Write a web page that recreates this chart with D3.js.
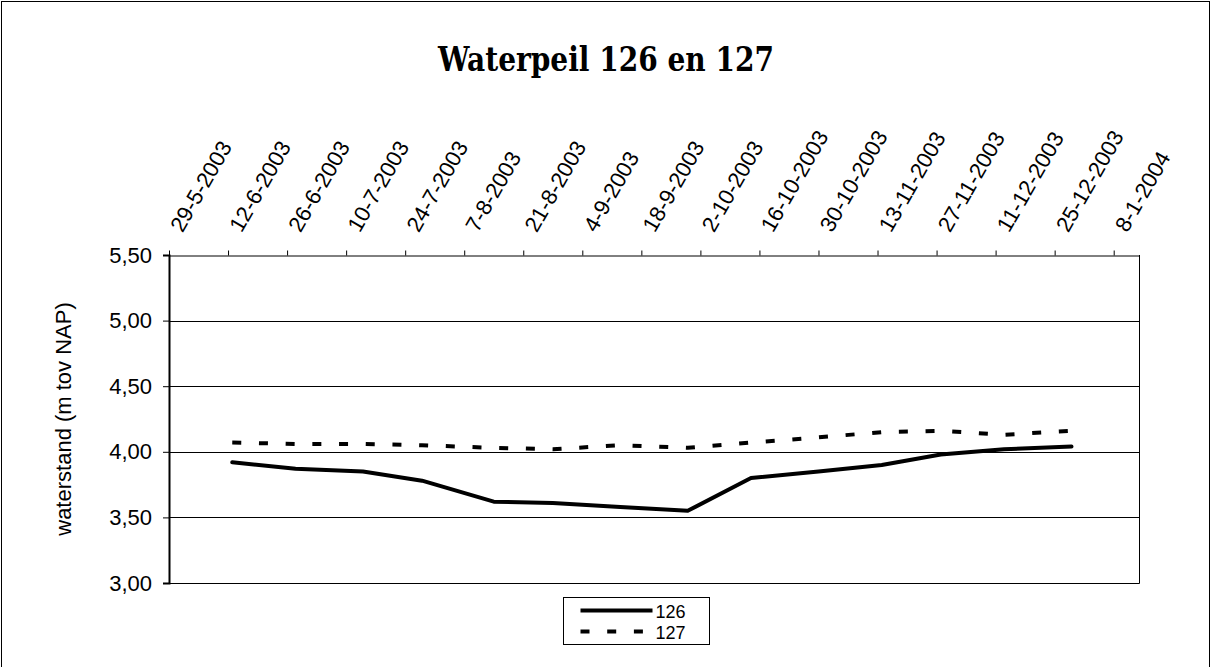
<!DOCTYPE html>
<html>
<head>
<meta charset="utf-8">
<script src="https://cdn.jsdelivr.net/npm/d3@7"></script>
<style>
  html, body { margin: 0; padding: 0; background: #fff; }
  svg { display: block; }
  .tick text { font-family: Arial, "Liberation Sans", sans-serif; }
</style>
</head>
<body>
<svg id="chart" width="1212" height="667"></svg>
<script>
// Meetdata waterpeil (m t.o.v. NAP) per peilbuis
const meetDatums = ["13-6-2003", "28-6-2003", "14-7-2003", "28-7-2003", "14-8-2003", "28-8-2003",
  "13-9-2003", "29-9-2003", "14-10-2003", "30-10-2003", "14-11-2003", "28-11-2003",
  "13-12-2003", "29-12-2003"];
const peil126 = [3.92, 3.87, 3.85, 3.78, 3.62, 3.61, 3.58, 3.55, 3.80, 3.85, 3.90, 3.98, 4.02, 4.04];
const peil127 = [4.07, 4.06, 4.06, 4.05, 4.03, 4.02, 4.05, 4.03, 4.07, 4.11, 4.15, 4.16, 4.13, 4.16];

// As-indeling
const xTickLabels = ["29-5-2003", "12-6-2003", "26-6-2003", "10-7-2003", "24-7-2003", "7-8-2003",
  "21-8-2003", "4-9-2003", "18-9-2003", "2-10-2003", "16-10-2003", "30-10-2003", "13-11-2003",
  "27-11-2003", "11-12-2003", "25-12-2003", "8-1-2004"];
const xEinde = "14-1-2004";
const yTicks = [3.00, 3.50, 4.00, 4.50, 5.00, 5.50];

const seriesNamen = ["126", "127"];
const titel = "Waterpeil 126 en 127";
const yTitel = "waterstand (m tov NAP)";

function parseDatum(s) {
  const [d, m, y] = s.split("-").map(Number);
  return new Date(Date.UTC(y, m - 1, d));
}
const fmtDatum = d3.utcFormat("%-d-%-m-%Y");
const fmtPeil = v => d3.format(".2f")(v).replace(".", ",");

const svg = d3.select("#chart");
const W = 1212, H = 667;
const plot = { left: 169, right: 1139, top: 255, bottom: 583 };
const labelFont = "Arial, 'Liberation Sans', sans-serif";

svg.append("rect").attr("width", W).attr("height", H).attr("fill", "#fff");
// kader rond de grafiek
svg.append("rect")
  .attr("x", 1.5).attr("y", 1.5).attr("width", 1208).attr("height", 700)
  .attr("fill", "none").attr("stroke", "#000").attr("stroke-width", 1);

// titel (smal gezet)
svg.append("text")
  .attr("transform", "translate(606,71) scale(0.85,1)")
  .attr("text-anchor", "middle")
  .style("font-family", "'DejaVu Serif', serif")
  .style("font-weight", "bold")
  .style("font-size", "33px")
  .text(titel);

const xTickDates = xTickLabels.map(parseDatum);
const x = d3.scaleUtc()
  .domain([xTickDates[0], parseDatum(xEinde)])
  .range([plot.left, plot.right]);
const y = d3.scaleLinear()
  .domain([yTicks[0], yTicks[yTicks.length - 1]])
  .range([plot.bottom, plot.top]);

// horizontale rasterlijnen
svg.append("g")
  .selectAll("line")
  .data(yTicks.slice(1, -1))
  .join("line")
  .attr("x1", plot.left).attr("x2", plot.right)
  .attr("y1", d => Math.round(y(d)) + 0.5).attr("y2", d => Math.round(y(d)) + 0.5)
  .attr("stroke", "#000").attr("stroke-width", 1);

// rand rechts en onder
svg.append("path")
  .attr("d", `M${plot.right + 0.5},${plot.top}V${plot.bottom + 0.5}H${plot.left}`)
  .attr("fill", "none").attr("stroke", "#000").attr("stroke-width", 1);

// y-as
const yAxis = svg.append("g")
  .attr("transform", `translate(${plot.left},0)`)
  .call(d3.axisLeft(y).tickValues(yTicks).tickFormat(fmtPeil).tickSize(6).tickPadding(11));
yAxis.select(".domain").attr("stroke-width", 2);
yAxis.selectAll(".tick line").attr("stroke-width", 1);
yAxis.selectAll(".tick text").style("font-size", "22px").attr("fill", "#000");

// x-as met datums bovenaan
const xAxis = svg.append("g")
  .attr("transform", `translate(0,${plot.top + 0.5})`)
  .call(d3.axisTop(x).tickValues(xTickDates).tickFormat(fmtDatum).tickSizeInner(5).tickSizeOuter(0));
xAxis.select(".domain").attr("stroke-width", 1);
xAxis.selectAll(".tick text")
  .style("font-size", "22px")
  .attr("fill", "#000")
  .attr("text-anchor", "start")
  .attr("dy", 0)
  .attr("transform", "translate(13,-22) rotate(-60)")
  .attr("x", 0).attr("y", 0);

// y-astitel
svg.append("text")
  .attr("transform", `translate(71,${(plot.top + plot.bottom) / 2}) rotate(-90)`)
  .attr("text-anchor", "middle")
  .style("font-family", labelFont)
  .style("font-size", "22px")
  .text(yTitel);

// lijnen
const series = [
  { naam: seriesNamen[0], waarden: peil126, dash: null },
  { naam: seriesNamen[1], waarden: peil127, dash: "9 17.7" }
];
const line = d3.line()
  .x(d => x(d.datum))
  .y(d => y(d.waarde));

series.forEach(s => {
  const punten = meetDatums.map((d, i) => ({ datum: parseDatum(d), waarde: s.waarden[i] }));
  svg.append("path")
    .datum(punten)
    .attr("d", line)
    .attr("fill", "none")
    .attr("stroke", "#000")
    .attr("stroke-width", 4)
    .attr("stroke-linejoin", "round")
    .attr("stroke-linecap", s.dash ? "butt" : "round")
    .attr("stroke-dasharray", s.dash);
});

// legenda
const lg = svg.append("g").attr("transform", "translate(563.5,597.5)");
lg.append("rect").attr("width", 146).attr("height", 47)
  .attr("fill", "#fff").attr("stroke", "#000").attr("stroke-width", 1);
series.forEach((s, i) => {
  const ly = 13 + i * 21;
  lg.append("line")
    .attr("x1", 17).attr("x2", 89).attr("y1", ly).attr("y2", ly)
    .attr("stroke", "#000").attr("stroke-width", 4)
    .attr("stroke-dasharray", s.dash);
  lg.append("text")
    .attr("x", 92).attr("y", ly + 7)
    .style("font-family", labelFont)
    .style("font-size", "18px")
    .text(s.naam);
});
</script>
</body>
</html>
